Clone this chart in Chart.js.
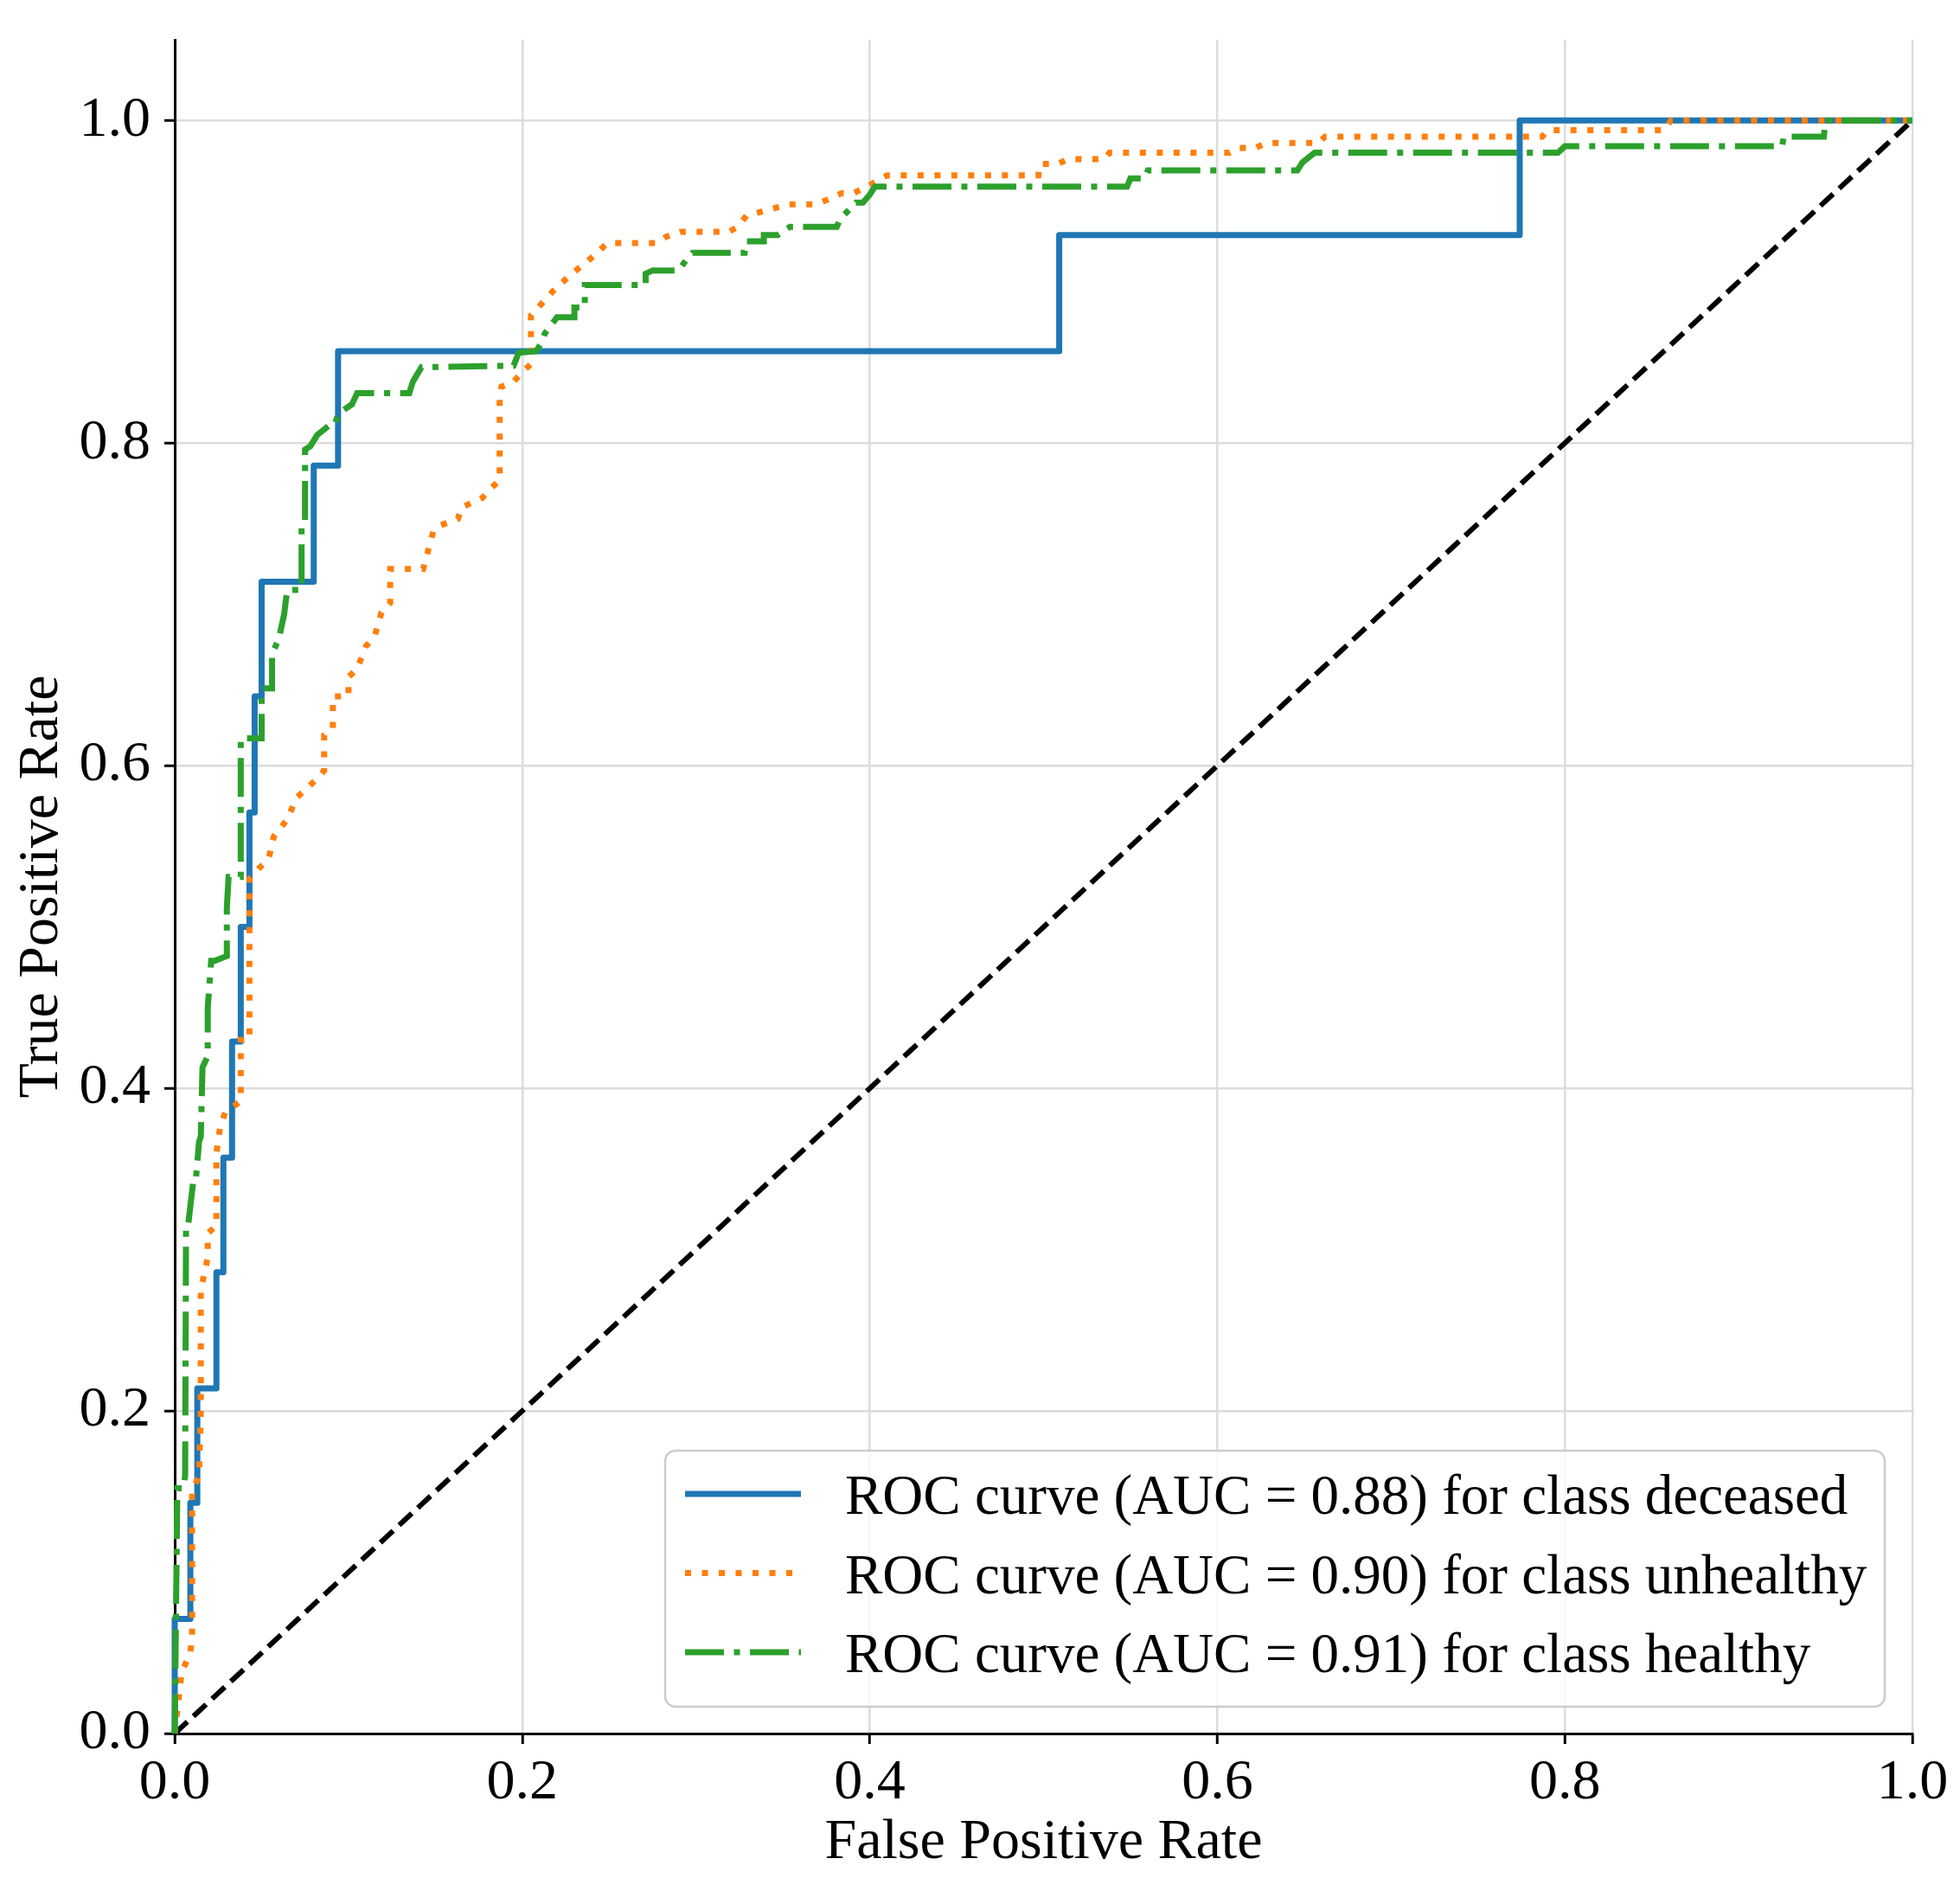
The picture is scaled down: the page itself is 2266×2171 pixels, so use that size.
<!DOCTYPE html>
<html>
<head>
<meta charset="utf-8">
<script src="https://cdn.jsdelivr.net/npm/chart.js@4.4.1/dist/chart.umd.min.js"></script>
<style>
    html, body { margin: 0; padding: 0; background: #ffffff; }
    #rocChart { display: block; width: 2266px; height: 2171px; }
</style>
</head>
<body>
<canvas id="rocChart" width="2266" height="2171"></canvas>
<script>

    // ROC points per class (false positive rate / true positive rate)
    const fprDeceased = [0, 0, 0.009, 0.009, 0.013, 0.013, 0.024, 0.024, 0.028, 0.028, 0.033, 0.033,
        0.038, 0.038, 0.043, 0.043, 0.046, 0.046, 0.050, 0.050, 0.080, 0.080, 0.094, 0.094,
        0.509, 0.509, 0.774, 0.774, 1.0];
    const tprDeceased = [0, 0.071, 0.071, 0.143, 0.143, 0.214, 0.214, 0.286, 0.286, 0.357, 0.357, 0.429,
        0.429, 0.5, 0.5, 0.571, 0.571, 0.643, 0.643, 0.714, 0.714, 0.786, 0.786, 0.857,
        0.857, 0.929, 0.929, 1.0, 1.0];

    const fprUnhealthy = [0, 0.004, 0.009, 0.010, 0.010, 0.014, 0.015, 0.015, 0.019, 0.019, 0.024, 0.024,
        0.026, 0.029, 0.038, 0.038, 0.043, 0.043, 0.049, 0.054, 0.057, 0.065, 0.070, 0.082,
        0.086, 0.086, 0.091, 0.091, 0.100, 0.100, 0.105, 0.110, 0.115, 0.119, 0.124, 0.124,
        0.143, 0.149, 0.153, 0.163, 0.165, 0.177, 0.182, 0.187, 0.187, 0.188, 0.195, 0.200,
        0.205, 0.205, 0.2175, 0.2275, 0.240, 0.249, 0.278, 0.283, 0.291, 0.319, 0.324, 0.329,
        0.343, 0.353, 0.369, 0.376, 0.384, 0.391, 0.400, 0.410, 0.497, 0.498, 0.508, 0.514,
        0.535, 0.538, 0.607, 0.612, 0.622, 0.628, 0.658, 0.662, 0.787, 0.790, 0.857, 0.861, 1.0];
    const tprUnhealthy = [0, 0.038, 0.050, 0.060, 0.150, 0.160, 0.200, 0.275, 0.295, 0.310, 0.315, 0.360,
        0.375, 0.385, 0.392, 0.430, 0.430, 0.530, 0.537, 0.542, 0.556, 0.567, 0.580, 0.592,
        0.597, 0.619, 0.623, 0.643, 0.643, 0.655, 0.660, 0.674, 0.680, 0.695, 0.701, 0.722,
        0.722, 0.746, 0.749, 0.753, 0.760, 0.766, 0.772, 0.777, 0.828, 0.835, 0.838, 0.844,
        0.849, 0.879, 0.894, 0.904, 0.915, 0.924, 0.924, 0.928, 0.931, 0.931, 0.934, 0.941,
        0.945, 0.948, 0.948, 0.951, 0.955, 0.955, 0.960, 0.966, 0.966, 0.973, 0.973, 0.976,
        0.976, 0.980, 0.980, 0.983, 0.983, 0.986, 0.986, 0.990, 0.990, 0.994, 0.994, 1.0, 1.0];

    const fprHealthy = [0, 0.0015, 0.005, 0.006, 0.0065, 0.0075, 0.0105, 0.012, 0.014, 0.015, 0.016, 0.019,
        0.019, 0.021, 0.023, 0.030, 0.030, 0.031, 0.038, 0.038, 0.050, 0.050, 0.051, 0.056,
        0.056, 0.056, 0.060, 0.063, 0.064, 0.065, 0.073, 0.073, 0.075, 0.075, 0.078, 0.082,
        0.089, 0.092, 0.094, 0.102, 0.105, 0.135, 0.137, 0.142, 0.195, 0.198, 0.208, 0.211,
        0.213, 0.220, 0.230, 0.230, 0.236, 0.236, 0.271, 0.271, 0.275, 0.290, 0.294, 0.298,
        0.328, 0.329, 0.339, 0.339, 0.347, 0.354, 0.381, 0.383, 0.392, 0.396, 0.400, 0.403,
        0.548, 0.550, 0.558, 0.560, 0.646, 0.649, 0.656, 0.796, 0.800, 0.925, 0.926, 0.949,
        0.950, 1.0];
    const tprHealthy = [0, 0.152, 0.152, 0.160, 0.313, 0.313, 0.341, 0.341, 0.367, 0.370, 0.413, 0.420,
        0.450, 0.479, 0.479, 0.482, 0.512, 0.531, 0.531, 0.617, 0.617, 0.642, 0.648, 0.648,
        0.659, 0.669, 0.679, 0.694, 0.703, 0.709, 0.709, 0.750, 0.752, 0.796, 0.798, 0.805,
        0.811, 0.811, 0.818, 0.824, 0.831, 0.831, 0.838, 0.847, 0.848, 0.856, 0.857, 0.862,
        0.868, 0.878, 0.878, 0.884, 0.884, 0.898, 0.898, 0.905, 0.907, 0.907, 0.913, 0.918,
        0.918, 0.925, 0.925, 0.929, 0.929, 0.934, 0.934, 0.939, 0.949, 0.949, 0.954, 0.959,
        0.959, 0.964, 0.964, 0.969, 0.969, 0.974, 0.980, 0.980, 0.984, 0.984, 0.990, 0.990,
        1.0, 1.0];

    const chanceFpr = [0, 1];
    const chanceTpr = [0, 1];

    const classNames = ["deceased", "unhealthy", "healthy"];
    const aucValues = [0.88, 0.90, 0.91];
    const tickValues = [0, 0.2, 0.4, 0.6, 0.8, 1.0];

    const serif = "'Liberation Serif', 'Times New Roman', serif";
    const gridColor = "#dcdcdc";

    const toPoints = (xs, ys) => xs.map((x, i) => ({ x: x, y: ys[i] }));
    const curveLabel = i => "ROC curve (AUC = " + aucValues[i].toFixed(2) + ") for class " + classNames[i];

    // legend drawn inside the plot, lower right, like the matplotlib one
    const insideLegend = {
        id: "insideLegend",
        afterDraw(chart) {
            const ctx = chart.ctx;
            const area = chart.chartArea;
            const boxW = 1410, boxH = 296, r = 12;
            const left = area.right - 32 - boxW;
            const top = area.bottom - 31 - boxH;

            ctx.save();
            ctx.beginPath();
            ctx.moveTo(left + r, top);
            ctx.arcTo(left + boxW, top, left + boxW, top + boxH, r);
            ctx.arcTo(left + boxW, top + boxH, left, top + boxH, r);
            ctx.arcTo(left, top + boxH, left, top, r);
            ctx.arcTo(left, top, left + boxW, top, r);
            ctx.closePath();
            ctx.fillStyle = "rgba(255, 255, 255, 0.8)";
            ctx.fill();
            ctx.lineWidth = 2.5;
            ctx.strokeStyle = "#cccccc";
            ctx.stroke();

            ctx.font = "65px " + serif;
            ctx.textBaseline = "alphabetic";
            ctx.textAlign = "left";
            let row = 0;
            chart.data.datasets.forEach(ds => {
                if (!ds.label) return;
                const y = top + 50 + row * 91.5;
                ctx.beginPath();
                ctx.setLineDash(ds.borderDash || []);
                ctx.lineWidth = ds.borderWidth;
                ctx.strokeStyle = ds.borderColor;
                ctx.lineCap = "butt";
                ctx.moveTo(left + 23, y);
                ctx.lineTo(left + 157, y);
                ctx.stroke();
                ctx.setLineDash([]);
                ctx.fillStyle = "#000000";
                ctx.fillText(ds.label, left + 208, y + 23);
                row++;
            });
            ctx.restore();
        }
    };

    const chart = document.getElementById("rocChart");

    new Chart(chart, {
        type: "scatter",
        data: {
            datasets: [
                {
                    label: curveLabel(0),
                    data: toPoints(fprDeceased, tprDeceased),
                    borderColor: "#1f77b4",
                    borderWidth: 7,
                    borderJoinStyle: "round",
                    order: 3
                },
                {
                    label: curveLabel(1),
                    data: toPoints(fprUnhealthy, tprUnhealthy),
                    borderColor: "#ff7f0e",
                    borderWidth: 7,
                    borderDash: [7, 12.5],
                    order: 2
                },
                {
                    label: curveLabel(2),
                    data: toPoints(fprHealthy, tprHealthy),
                    borderColor: "#2ca02c",
                    borderWidth: 7,
                    borderDash: [45, 11.5, 7, 11.5],
                    order: 1
                },
                {
                    label: "",
                    data: toPoints(chanceFpr, chanceTpr),
                    borderColor: "#000000",
                    borderWidth: 6,
                    borderDash: [20, 9.5],
                    order: 4
                }
            ]
        },
        options: {
            responsive: false,
            animation: false,
            devicePixelRatio: 1,
            showLine: true,
            datasets: {
                scatter: { showLine: true, pointRadius: 0, pointHoverRadius: 0, fill: false, tension: 0, clip: false, borderCapStyle: "butt" }
            },
            layout: { padding: { top: 46, right: 55, left: 0, bottom: 0 } },
            plugins: {
                legend: { display: false },
                tooltip: { enabled: false }
            },
            scales: {
                x: {
                    type: "linear",
                    min: 0,
                    max: 1,
                    afterBuildTicks: axis => { axis.ticks = tickValues.map(v => ({ value: v })); },
                    afterFit: axis => { axis.height = 167; axis.paddingLeft = 0; axis.paddingRight = 0; },
                    grid: { color: gridColor, lineWidth: 2.5, tickColor: "#000000", tickWidth: 3, tickLength: 12 },
                    border: { color: "#000000", width: 3 },
                    ticks: {
                        color: "#000000",
                        autoSkip: false,
                        maxRotation: 0,
                        padding: 6,
                        font: { family: serif, size: 66 },
                        callback: v => v.toFixed(1)
                    },
                    title: {
                        display: true,
                        text: "False Positive Rate",
                        color: "#000000",
                        font: { family: serif, size: 66 },
                        padding: { top: 0, bottom: 1 }
                    }
                },
                y: {
                    type: "linear",
                    min: 0,
                    max: 1.05,
                    afterBuildTicks: axis => { axis.ticks = tickValues.map(v => ({ value: v })); },
                    afterFit: axis => { axis.width = 202; axis.paddingTop = 0; axis.paddingBottom = 0; },
                    grid: { color: gridColor, lineWidth: 2.5, tickColor: "#000000", tickWidth: 3, tickLength: 12 },
                    border: { color: "#000000", width: 3 },
                    ticks: {
                        color: "#000000",
                        autoSkip: false,
                        padding: 16,
                        font: { family: serif, size: 66 },
                        callback: v => v.toFixed(1)
                    },
                    title: {
                        display: true,
                        text: "True Positive Rate",
                        color: "#000000",
                        font: { family: serif, size: 66 },
                        padding: { top: 9, bottom: 0 }
                    }
                }
            }
        },
        plugins: [insideLegend]
    });

</script>
</body>
</html>
